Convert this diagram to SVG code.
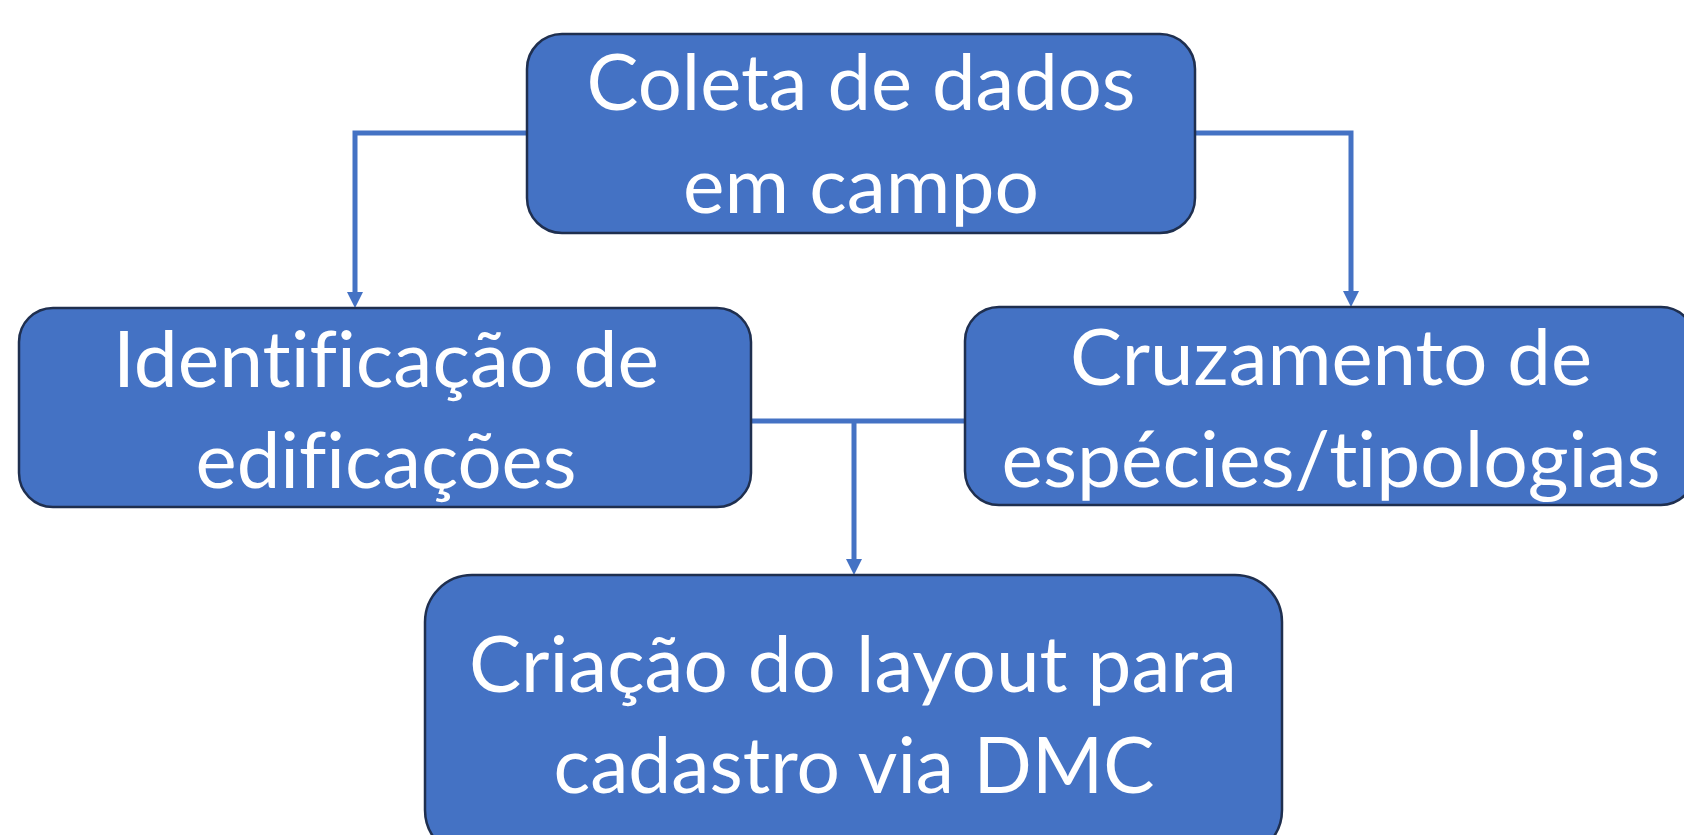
<svg xmlns="http://www.w3.org/2000/svg" width="1684" height="835" viewBox="0 0 1684 835">
<defs>
<style>
.box{fill:#4472C4;stroke:#1F2F4F;stroke-width:2.5}
.lbl{fill:#ffffff;font-family:Lato,"Open Sans","Liberation Sans",sans-serif;font-size:78px;text-anchor:middle;font-variant-ligatures:none;font-feature-settings:"liga" 0,"clig" 0}
.con{fill:none;stroke:#4472C4;stroke-width:5}
</style>
<marker id="ah" markerUnits="userSpaceOnUse" markerWidth="16" markerHeight="16" viewBox="0 0 16 16" refX="8" refY="8" orient="auto">
<path d="M0,0 L16,8 L0,16 z" fill="#4472C4"/>
</marker>
</defs>
<rect width="1684" height="835" fill="#ffffff"/>
<g id="connectors">
<path class="con" d="M527,133 H355 V300" marker-end="url(#ah)"/>
<path class="con" d="M1195,133 H1351 V299" marker-end="url(#ah)"/>
<path class="con" d="M751,421 H965"/>
<path class="con" d="M854,421 V567" marker-end="url(#ah)"/>
</g>
<g id="node-coleta">
<rect class="box" x="527" y="34" width="668" height="199" rx="35" ry="35"/>
<text class="lbl" x="861" y="110" textLength="549" lengthAdjust="spacingAndGlyphs">Coleta de dados</text>
<text class="lbl" x="861" y="213" textLength="356" lengthAdjust="spacingAndGlyphs">em campo</text>
</g>
<g id="node-identificacao">
<rect class="box" x="19" y="308" width="732" height="199" rx="34" ry="34"/>
<text class="lbl" x="386" y="387" textLength="546" lengthAdjust="spacingAndGlyphs">Identificação de</text>
<text class="lbl" x="386" y="488" textLength="381" lengthAdjust="spacingAndGlyphs">edificações</text>
</g>
<g id="node-cruzamento">
<rect class="box" x="965" y="307" width="730" height="198" rx="34" ry="34"/>
<text class="lbl" x="1331" y="385" textLength="522" lengthAdjust="spacingAndGlyphs">Cruzamento de</text>
<text class="lbl" x="1331" y="487" textLength="659" lengthAdjust="spacingAndGlyphs">espécies/tipologias</text>
</g>
<g id="node-criacao">
<rect class="box" x="425" y="575" width="857" height="282" rx="47" ry="47"/>
<text class="lbl" x="853" y="692" textLength="768" lengthAdjust="spacingAndGlyphs">Criação do layout para</text>
<text class="lbl" x="854" y="793" textLength="601" lengthAdjust="spacingAndGlyphs">cadastro via DMC</text>
</g>
</svg>
